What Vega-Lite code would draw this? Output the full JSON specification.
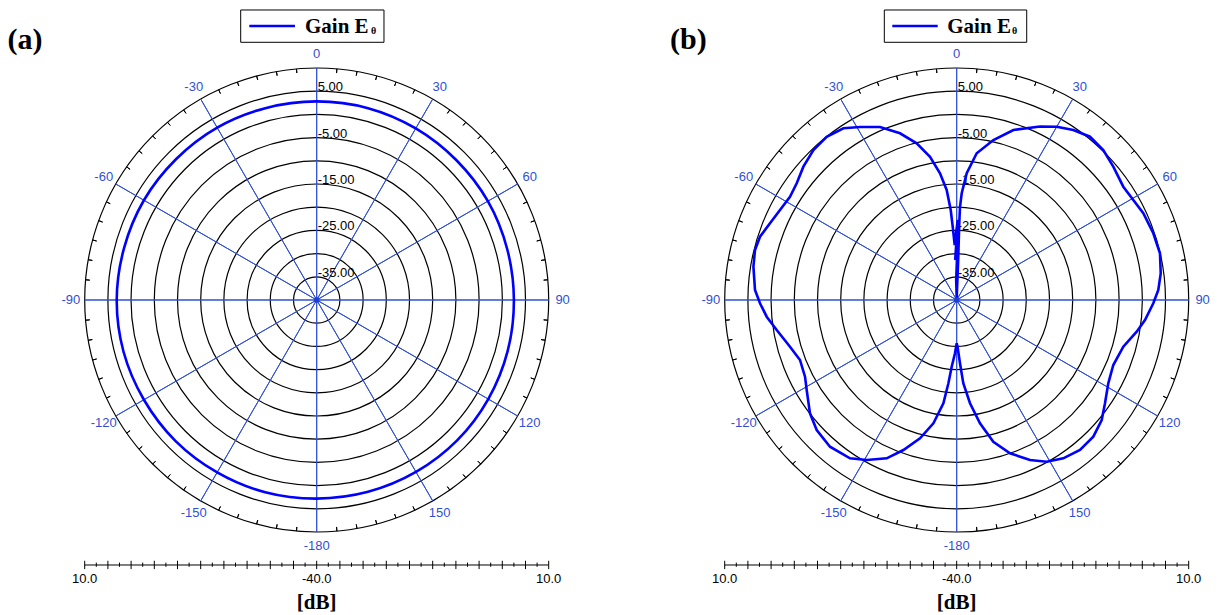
{
"$schema": "https://vega.github.io/schema/vega-lite/v6.json",
"padding": 0,
"background": "white",
"spacing": 60,
"config": {"view": {"stroke": null}, "axis": {"disable": true}, "legend": {"disable": true}},
"datasets": {
"circles": [{"g":-35},{"g":-30},{"g":-25},{"g":-20},{"g":-15},{"g":-10},{"g":-5},{"g":0},{"g":5},{"g":10}],
"spokes": [{"a":0},{"a":30},{"a":60},{"a":90},{"a":120},{"a":150},{"a":180},{"a":210},{"a":240},{"a":270},{"a":300},{"a":330}],
"ticks": [{"a":5},{"a":10},{"a":15},{"a":20},{"a":25},{"a":35},{"a":40},{"a":45},{"a":50},{"a":55},{"a":65},{"a":70},{"a":75},{"a":80},{"a":85},{"a":95},{"a":100},{"a":105},{"a":110},{"a":115},{"a":125},{"a":130},{"a":135},{"a":140},{"a":145},{"a":155},{"a":160},{"a":165},{"a":170},{"a":175},{"a":185},{"a":190},{"a":195},{"a":200},{"a":205},{"a":215},{"a":220},{"a":225},{"a":230},{"a":235},{"a":245},{"a":250},{"a":255},{"a":260},{"a":265},{"a":275},{"a":280},{"a":285},{"a":290},{"a":295},{"a":305},{"a":310},{"a":315},{"a":320},{"a":325},{"a":335},{"a":340},{"a":345},{"a":350},{"a":355}],
"alabels": [{"a":0,"t":"0"},{"a":30,"t":"30"},{"a":60,"t":"60"},{"a":90,"t":"90"},{"a":120,"t":"120"},{"a":150,"t":"150"},{"a":180,"t":"-180"},{"a":210,"t":"-150"},{"a":240,"t":"-120"},{"a":270,"t":"-90"},{"a":300,"t":"-60"},{"a":330,"t":"-30"}],
"rlabels": [{"g":5,"t":"5.00"},{"g":-5,"t":"-5.00"},{"g":-15,"t":"-15.00"},{"g":-25,"t":"-25.00"},{"g":-35,"t":"-35.00"}],
"axmaj": [{"v":-50},{"v":-45},{"v":-40},{"v":-35},{"v":-30},{"v":-25},{"v":-20},{"v":-15},{"v":-10},{"v":-5},{"v":0},{"v":5},{"v":10},{"v":15},{"v":20},{"v":25},{"v":30},{"v":35},{"v":40},{"v":45},{"v":50}],
"axmin": [{"v":-47.5},{"v":-42.5},{"v":-37.5},{"v":-32.5},{"v":-27.5},{"v":-22.5},{"v":-17.5},{"v":-12.5},{"v":-7.5},{"v":-2.5},{"v":2.5},{"v":7.5},{"v":12.5},{"v":17.5},{"v":22.5},{"v":27.5},{"v":32.5},{"v":37.5},{"v":42.5},{"v":47.5}],
"axlab": [{"v":-50,"t":"10.0"},{"v":0,"t":"-40.0"},{"v":50,"t":"10.0"}],
"curveA": [{"i":0,"x":0,"y":42.8},{"i":1,"x":11.078,"y":41.342},{"i":2,"x":21.35,"y":36.979},{"i":3,"x":30.123,"y":30.123},{"i":4,"x":36.893,"y":21.3},{"i":5,"x":41.052,"y":11.0},{"i":6,"x":42.5,"y":0},{"i":7,"x":41.149,"y":-11.026},{"i":8,"x":36.979,"y":-21.35},{"i":9,"x":30.264,"y":-30.264},{"i":10,"x":21.4,"y":-37.066},{"i":11,"x":11.077,"y":-41.342},{"i":12,"x":0,"y":-42.8},{"i":13,"x":-11.103,"y":-41.438},{"i":14,"x":-21.45,"y":-37.153},{"i":15,"x":-30.406,"y":-30.406},{"i":16,"x":-37.239,"y":-21.5},{"i":17,"x":-41.632,"y":-11.155},{"i":18,"x":-43.1,"y":0},{"i":19,"x":-41.535,"y":11.129},{"i":20,"x":-37.239,"y":21.5},{"i":21,"x":-30.335,"y":30.335},{"i":22,"x":-21.45,"y":37.153},{"i":23,"x":-11.078,"y":41.342}],
"curveB": [{"i":1,"x":0,"y":0.43},{"i":2,"x":0.32,"y":8.62},{"i":3,"x":0.54,"y":16.16},{"i":4,"x":0.71,"y":20.04},{"i":5,"x":1.08,"y":23.0},{"i":6,"x":2.16,"y":27.31},{"i":7,"x":4.31,"y":31.62},{"i":8,"x":7.91,"y":34.48},{"i":9,"x":12.22,"y":36.64},{"i":10,"x":17.95,"y":37.39},{"i":11,"x":21.55,"y":37.35},{"i":12,"x":25.13,"y":36.64},{"i":13,"x":28.73,"y":35.19},{"i":14,"x":31.59,"y":32.33},{"i":15,"x":33.75,"y":28.73},{"i":16,"x":35.91,"y":24.42},{"i":17,"x":38.06,"y":21.55},{"i":18,"x":40.22,"y":18.69},{"i":19,"x":42.37,"y":14.38},{"i":20,"x":43.81,"y":10.06},{"i":21,"x":43.97,"y":5.75},{"i":22,"x":43.45,"y":2.16},{"i":23,"x":42.37,"y":-0.71},{"i":24,"x":40.58,"y":-4.31},{"i":25,"x":38.79,"y":-6.83},{"i":26,"x":35.91,"y":-10.06},{"i":27,"x":33.75,"y":-14.01},{"i":28,"x":32.67,"y":-17.95},{"i":29,"x":31.96,"y":-22.26},{"i":30,"x":31.25,"y":-25.86},{"i":31,"x":29.44,"y":-29.46},{"i":32,"x":26.57,"y":-32.33},{"i":33,"x":22.97,"y":-34.12},{"i":34,"x":19.4,"y":-34.85},{"i":35,"x":15.8,"y":-34.48},{"i":36,"x":11.49,"y":-33.04},{"i":37,"x":7.89,"y":-30.54},{"i":38,"x":5.02,"y":-26.57},{"i":39,"x":2.87,"y":-22.26},{"i":40,"x":1.42,"y":-17.95},{"i":41,"x":0.71,"y":-13.64},{"i":42,"x":0.22,"y":-10.34},{"i":43,"x":0,"y":-9.33},{"i":44,"x":-0.37,"y":-11.49},{"i":45,"x":-1.08,"y":-14.38},{"i":46,"x":-1.79,"y":-17.95},{"i":47,"x":-2.87,"y":-22.26},{"i":48,"x":-5.02,"y":-26.57},{"i":49,"x":-7.91,"y":-29.81},{"i":50,"x":-11.49,"y":-32.33},{"i":51,"x":-15.09,"y":-34.12},{"i":52,"x":-19.4,"y":-34.48},{"i":53,"x":-23.0,"y":-34.12},{"i":54,"x":-27.31,"y":-31.62},{"i":55,"x":-30.17,"y":-28.02},{"i":56,"x":-31.62,"y":-24.42},{"i":57,"x":-32.33,"y":-19.4},{"i":58,"x":-32.69,"y":-16.53},{"i":59,"x":-33.77,"y":-12.93},{"i":60,"x":-35.93,"y":-10.06},{"i":61,"x":-38.79,"y":-6.47},{"i":62,"x":-40.95,"y":-3.6},{"i":63,"x":-42.39,"y":-0.71},{"i":64,"x":-43.47,"y":2.16},{"i":65,"x":-43.81,"y":7.18},{"i":66,"x":-43.47,"y":10.78},{"i":67,"x":-42.39,"y":13.64},{"i":68,"x":-40.24,"y":16.53},{"i":69,"x":-38.08,"y":19.4},{"i":70,"x":-35.93,"y":22.26},{"i":71,"x":-34.48,"y":25.15},{"i":72,"x":-33.04,"y":28.73},{"i":73,"x":-30.88,"y":32.33},{"i":74,"x":-28.02,"y":35.19},{"i":75,"x":-24.42,"y":37.0},{"i":76,"x":-20.84,"y":37.28},{"i":77,"x":-16.53,"y":37.28},{"i":78,"x":-12.22,"y":35.93},{"i":79,"x":-8.62,"y":33.77},{"i":80,"x":-5.75,"y":30.88},{"i":81,"x":-3.6,"y":27.31},{"i":82,"x":-2.16,"y":23.71},{"i":83,"x":-1.29,"y":19.4},{"i":84,"x":-0.86,"y":15.8},{"i":85,"x":-0.43,"y":11.85},{"i":86,"x":0.22,"y":17.24},{"i":87,"x":-0.32,"y":8.62},{"i":88,"x":0.22,"y":12.93},{"i":89,"x":-0.11,"y":4.31},{"i":90,"x":0,"y":0.43}]
},
"hconcat": [
{
"width": 580, "height": 615,
"layer": [
 {"data": {"name": "circles"}, "mark": {"type": "arc", "filled": false, "fillOpacity": 0, "stroke": "#000000", "strokeWidth": 1.2},
  "encoding": {
   "x": {"datum": 0, "type": "quantitative", "scale": {"domain": [-68.254, 56.746], "nice": false, "zero": false}},
   "y": {"datum": 0, "type": "quantitative", "scale": {"domain": [-67.888, 64.655], "nice": false, "zero": false}},
   "radius": {"field": "g", "type": "quantitative", "stack": null, "scale": {"type": "linear", "domain": [-40, 10], "range": [0, 232], "zero": false, "nice": false}},
   "radius2": {"datum": -40}}},
 {"data": {"name": "ticks"}, "mark": {"type": "arc", "filled": false, "fillOpacity": 0, "stroke": "#000000", "strokeWidth": 1},
  "encoding": {
   "x": {"datum": 0, "type": "quantitative", "scale": {"domain": [-68.254, 56.746], "nice": false, "zero": false}},
   "y": {"datum": 0, "type": "quantitative", "scale": {"domain": [-67.888, 64.655], "nice": false, "zero": false}},
   "theta": {"field": "a", "type": "quantitative", "stack": null, "scale": {"type": "linear", "domain": [0, 360], "range": [0, 6.283185307179586], "zero": false, "nice": false}}, "theta2": {"field": "a"},
   "radius": {"datum": 10, "type": "quantitative", "scale": {"type": "linear", "domain": [-40, 10], "range": [0, 232], "zero": false, "nice": false}}, "radius2": {"datum": 9.1}}},
 {"data": {"name": "spokes"}, "mark": {"type": "arc", "filled": false, "fillOpacity": 0, "stroke": "#2f4fd6", "strokeWidth": 1},
  "encoding": {
   "x": {"datum": 0, "type": "quantitative", "scale": {"domain": [-68.254, 56.746], "nice": false, "zero": false}},
   "y": {"datum": 0, "type": "quantitative", "scale": {"domain": [-67.888, 64.655], "nice": false, "zero": false}},
   "theta": {"field": "a", "type": "quantitative", "stack": null, "scale": {"type": "linear", "domain": [0, 360], "range": [0, 6.283185307179586], "zero": false, "nice": false}}, "theta2": {"field": "a"},
   "radius": {"datum": 10, "type": "quantitative", "scale": {"type": "linear", "domain": [-40, 10], "range": [0, 232], "zero": false, "nice": false}}, "radius2": {"datum": -40}}},
 {"data": {"name": "alabels"}, "mark": {"type": "text", "font": "Liberation Sans", "fontSize": 13, "color": "#2f4fd6", "align": "center", "baseline": "middle"},
  "encoding": {
   "x": {"datum": 0, "type": "quantitative", "scale": {"domain": [-68.254, 56.746], "nice": false, "zero": false}},
   "y": {"datum": 0, "type": "quantitative", "scale": {"domain": [-67.888, 64.655], "nice": false, "zero": false}},
   "theta": {"field": "a", "type": "quantitative", "stack": null, "scale": {"type": "linear", "domain": [0, 360], "range": [0, 6.283185307179586], "zero": false, "nice": false}},
   "radius": {"datum": 13, "type": "quantitative", "scale": {"type": "linear", "domain": [-40, 10], "range": [0, 232], "zero": false, "nice": false}}, "text": {"field": "t"}}},
 {"data": {"name": "rlabels"}, "mark": {"type": "text", "font": "Liberation Sans", "fontSize": 13, "color": "#000000", "align": "left", "baseline": "alphabetic", "dx": 1},
  "encoding": {
   "x": {"datum": 0, "type": "quantitative", "scale": {"domain": [-68.254, 56.746], "nice": false, "zero": false}},
   "y": {"datum": 0, "type": "quantitative", "scale": {"domain": [-67.888, 64.655], "nice": false, "zero": false}},
   "theta": {"datum": 0, "type": "quantitative", "scale": {"type": "linear", "domain": [0, 360], "range": [0, 6.283185307179586], "zero": false, "nice": false}},
   "radius": {"field": "g", "type": "quantitative", "stack": null, "scale": {"type": "linear", "domain": [-40, 10], "range": [0, 232], "zero": false, "nice": false}}, "text": {"field": "t"}}},
 {"data": {"name": "curveA"}, "mark": {"type": "line", "color": "#0000ff", "strokeWidth": 2.6, "interpolate": "cardinal-closed"},
  "encoding": {"x": {"field": "x", "type": "quantitative", "scale": {"domain": [-68.254, 56.746], "nice": false, "zero": false}},
   "y": {"field": "y", "type": "quantitative", "scale": {"domain": [-67.888, 64.655], "nice": false, "zero": false}},
   "order": {"field": "i", "type": "quantitative"}}},
 {"data": {"values": [{}]}, "mark": {"type": "point", "filled": true, "color": "#1f3fd0", "size": 30, "opacity": 1},
  "encoding": {
   "x": {"datum": 0, "type": "quantitative", "scale": {"domain": [-68.254, 56.746], "nice": false, "zero": false}},
   "y": {"datum": 0, "type": "quantitative", "scale": {"domain": [-67.888, 64.655], "nice": false, "zero": false}}}},
 {"data": {"values": [{}]}, "mark": {"type": "rule", "color": "#000000", "strokeWidth": 1},
  "encoding": {"x": {"datum": -50, "type": "quantitative", "scale": {"domain": [-68.254, 56.746], "nice": false, "zero": false}}, "x2": {"datum": 50},
   "y": {"datum": -57.11, "type": "quantitative", "scale": {"domain": [-67.888, 64.655], "nice": false, "zero": false}}}},
 {"data": {"name": "axmaj"}, "mark": {"type": "rule", "color": "#000000", "strokeWidth": 1},
  "encoding": {"x": {"field": "v", "type": "quantitative", "scale": {"domain": [-68.254, 56.746], "nice": false, "zero": false}},
   "y": {"datum": -58.0, "type": "quantitative", "scale": {"domain": [-67.888, 64.655], "nice": false, "zero": false}}, "y2": {"datum": -56.2}}},
 {"data": {"name": "axmin"}, "mark": {"type": "rule", "color": "#000000", "strokeWidth": 1},
  "encoding": {"x": {"field": "v", "type": "quantitative", "scale": {"domain": [-68.254, 56.746], "nice": false, "zero": false}},
   "y": {"datum": -57.5, "type": "quantitative", "scale": {"domain": [-67.888, 64.655], "nice": false, "zero": false}}, "y2": {"datum": -56.6}}},
 {"data": {"name": "axlab"}, "mark": {"type": "text", "font": "Liberation Sans", "fontSize": 13, "color": "#000000", "align": "center", "baseline": "middle"},
  "encoding": {"x": {"field": "v", "type": "quantitative", "scale": {"domain": [-68.254, 56.746], "nice": false, "zero": false}},
   "y": {"datum": -60.1, "type": "quantitative", "scale": {"domain": [-67.888, 64.655], "nice": false, "zero": false}}, "text": {"field": "t"}}},
 {"data": {"values": [{}]}, "mark": {"type": "text", "text": "[dB]", "font": "Liberation Serif", "fontWeight": "bold", "fontSize": 21, "color": "#000000", "align": "center", "baseline": "alphabetic"},
  "encoding": {"x": {"datum": 0, "type": "quantitative", "scale": {"domain": [-68.254, 56.746], "nice": false, "zero": false}},
   "y": {"datum": -66.6, "type": "quantitative", "scale": {"domain": [-67.888, 64.655], "nice": false, "zero": false}}}},
 {"data": {"values": [{}]}, "mark": {"type": "text", "text": "(a)", "font": "Liberation Serif", "fontWeight": "bold", "fontSize": 30, "color": "#000000", "align": "center", "baseline": "alphabetic"},
  "encoding": {"x": {"datum": -62.87, "type": "quantitative", "scale": {"domain": [-68.254, 56.746], "nice": false, "zero": false}},
   "y": {"datum": 54.09, "type": "quantitative", "scale": {"domain": [-67.888, 64.655], "nice": false, "zero": false}}}},
 {"data": {"values": [{}]}, "mark": {"type": "rect", "fill": "#ffffff", "stroke": "#000000", "strokeWidth": 1},
  "encoding": {"x": {"datum": -16.38, "type": "quantitative", "scale": {"domain": [-68.254, 56.746], "nice": false, "zero": false}}, "x2": {"datum": 14.5},
   "y": {"datum": 62.5, "type": "quantitative", "scale": {"domain": [-67.888, 64.655], "nice": false, "zero": false}}, "y2": {"datum": 55.54}}},
 {"data": {"values": [{}]}, "mark": {"type": "rule", "color": "#0000ff", "strokeWidth": 2.5},
  "encoding": {"x": {"datum": -14.53, "type": "quantitative", "scale": {"domain": [-68.254, 56.746], "nice": false, "zero": false}}, "x2": {"datum": -4.68},
   "y": {"datum": 59.05, "type": "quantitative", "scale": {"domain": [-67.888, 64.655], "nice": false, "zero": false}}}},
 {"data": {"values": [{}]}, "mark": {"type": "text", "text": "Gain E", "font": "Liberation Serif", "fontWeight": "bold", "fontSize": 21, "color": "#000000", "align": "left", "baseline": "alphabetic"},
  "encoding": {"x": {"datum": -2.52, "type": "quantitative", "scale": {"domain": [-68.254, 56.746], "nice": false, "zero": false}},
   "y": {"datum": 57.48, "type": "quantitative", "scale": {"domain": [-67.888, 64.655], "nice": false, "zero": false}}}},
 {"data": {"values": [{}]}, "mark": {"type": "text", "text": "θ", "font": "Liberation Serif", "fontWeight": "bold", "fontSize": 10, "color": "#000000", "align": "left", "baseline": "alphabetic"},
  "encoding": {"x": {"datum": 11.7, "type": "quantitative", "scale": {"domain": [-68.254, 56.746], "nice": false, "zero": false}},
   "y": {"datum": 57.26, "type": "quantitative", "scale": {"domain": [-67.888, 64.655], "nice": false, "zero": false}}}}
]
},
{
"width": 580, "height": 615,
"layer": [
 {"data": {"name": "circles"}, "mark": {"type": "arc", "filled": false, "fillOpacity": 0, "stroke": "#000000", "strokeWidth": 1.2},
  "encoding": {
   "x": {"datum": 0, "type": "quantitative", "scale": {"domain": [-68.254, 56.746], "nice": false, "zero": false}},
   "y": {"datum": 0, "type": "quantitative", "scale": {"domain": [-67.888, 64.655], "nice": false, "zero": false}},
   "radius": {"field": "g", "type": "quantitative", "stack": null, "scale": {"type": "linear", "domain": [-40, 10], "range": [0, 232], "zero": false, "nice": false}},
   "radius2": {"datum": -40}}},
 {"data": {"name": "ticks"}, "mark": {"type": "arc", "filled": false, "fillOpacity": 0, "stroke": "#000000", "strokeWidth": 1},
  "encoding": {
   "x": {"datum": 0, "type": "quantitative", "scale": {"domain": [-68.254, 56.746], "nice": false, "zero": false}},
   "y": {"datum": 0, "type": "quantitative", "scale": {"domain": [-67.888, 64.655], "nice": false, "zero": false}},
   "theta": {"field": "a", "type": "quantitative", "stack": null, "scale": {"type": "linear", "domain": [0, 360], "range": [0, 6.283185307179586], "zero": false, "nice": false}}, "theta2": {"field": "a"},
   "radius": {"datum": 10, "type": "quantitative", "scale": {"type": "linear", "domain": [-40, 10], "range": [0, 232], "zero": false, "nice": false}}, "radius2": {"datum": 9.1}}},
 {"data": {"name": "spokes"}, "mark": {"type": "arc", "filled": false, "fillOpacity": 0, "stroke": "#2f4fd6", "strokeWidth": 1},
  "encoding": {
   "x": {"datum": 0, "type": "quantitative", "scale": {"domain": [-68.254, 56.746], "nice": false, "zero": false}},
   "y": {"datum": 0, "type": "quantitative", "scale": {"domain": [-67.888, 64.655], "nice": false, "zero": false}},
   "theta": {"field": "a", "type": "quantitative", "stack": null, "scale": {"type": "linear", "domain": [0, 360], "range": [0, 6.283185307179586], "zero": false, "nice": false}}, "theta2": {"field": "a"},
   "radius": {"datum": 10, "type": "quantitative", "scale": {"type": "linear", "domain": [-40, 10], "range": [0, 232], "zero": false, "nice": false}}, "radius2": {"datum": -40}}},
 {"data": {"name": "alabels"}, "mark": {"type": "text", "font": "Liberation Sans", "fontSize": 13, "color": "#2f4fd6", "align": "center", "baseline": "middle"},
  "encoding": {
   "x": {"datum": 0, "type": "quantitative", "scale": {"domain": [-68.254, 56.746], "nice": false, "zero": false}},
   "y": {"datum": 0, "type": "quantitative", "scale": {"domain": [-67.888, 64.655], "nice": false, "zero": false}},
   "theta": {"field": "a", "type": "quantitative", "stack": null, "scale": {"type": "linear", "domain": [0, 360], "range": [0, 6.283185307179586], "zero": false, "nice": false}},
   "radius": {"datum": 13, "type": "quantitative", "scale": {"type": "linear", "domain": [-40, 10], "range": [0, 232], "zero": false, "nice": false}}, "text": {"field": "t"}}},
 {"data": {"name": "rlabels"}, "mark": {"type": "text", "font": "Liberation Sans", "fontSize": 13, "color": "#000000", "align": "left", "baseline": "alphabetic", "dx": 1},
  "encoding": {
   "x": {"datum": 0, "type": "quantitative", "scale": {"domain": [-68.254, 56.746], "nice": false, "zero": false}},
   "y": {"datum": 0, "type": "quantitative", "scale": {"domain": [-67.888, 64.655], "nice": false, "zero": false}},
   "theta": {"datum": 0, "type": "quantitative", "scale": {"type": "linear", "domain": [0, 360], "range": [0, 6.283185307179586], "zero": false, "nice": false}},
   "radius": {"field": "g", "type": "quantitative", "stack": null, "scale": {"type": "linear", "domain": [-40, 10], "range": [0, 232], "zero": false, "nice": false}}, "text": {"field": "t"}}},
 {"data": {"name": "curveB"}, "mark": {"type": "line", "color": "#0000ff", "strokeWidth": 2.6, "interpolate": "linear"},
  "encoding": {"x": {"field": "x", "type": "quantitative", "scale": {"domain": [-68.254, 56.746], "nice": false, "zero": false}},
   "y": {"field": "y", "type": "quantitative", "scale": {"domain": [-67.888, 64.655], "nice": false, "zero": false}},
   "order": {"field": "i", "type": "quantitative"}}},
 {"data": {"values": [{}]}, "mark": {"type": "point", "filled": true, "color": "#1f3fd0", "size": 30, "opacity": 1},
  "encoding": {
   "x": {"datum": 0, "type": "quantitative", "scale": {"domain": [-68.254, 56.746], "nice": false, "zero": false}},
   "y": {"datum": 0, "type": "quantitative", "scale": {"domain": [-67.888, 64.655], "nice": false, "zero": false}}}},
 {"data": {"values": [{}]}, "mark": {"type": "rule", "color": "#000000", "strokeWidth": 1},
  "encoding": {"x": {"datum": -50, "type": "quantitative", "scale": {"domain": [-68.254, 56.746], "nice": false, "zero": false}}, "x2": {"datum": 50},
   "y": {"datum": -57.11, "type": "quantitative", "scale": {"domain": [-67.888, 64.655], "nice": false, "zero": false}}}},
 {"data": {"name": "axmaj"}, "mark": {"type": "rule", "color": "#000000", "strokeWidth": 1},
  "encoding": {"x": {"field": "v", "type": "quantitative", "scale": {"domain": [-68.254, 56.746], "nice": false, "zero": false}},
   "y": {"datum": -58.0, "type": "quantitative", "scale": {"domain": [-67.888, 64.655], "nice": false, "zero": false}}, "y2": {"datum": -56.2}}},
 {"data": {"name": "axmin"}, "mark": {"type": "rule", "color": "#000000", "strokeWidth": 1},
  "encoding": {"x": {"field": "v", "type": "quantitative", "scale": {"domain": [-68.254, 56.746], "nice": false, "zero": false}},
   "y": {"datum": -57.5, "type": "quantitative", "scale": {"domain": [-67.888, 64.655], "nice": false, "zero": false}}, "y2": {"datum": -56.6}}},
 {"data": {"name": "axlab"}, "mark": {"type": "text", "font": "Liberation Sans", "fontSize": 13, "color": "#000000", "align": "center", "baseline": "middle"},
  "encoding": {"x": {"field": "v", "type": "quantitative", "scale": {"domain": [-68.254, 56.746], "nice": false, "zero": false}},
   "y": {"datum": -60.1, "type": "quantitative", "scale": {"domain": [-67.888, 64.655], "nice": false, "zero": false}}, "text": {"field": "t"}}},
 {"data": {"values": [{}]}, "mark": {"type": "text", "text": "[dB]", "font": "Liberation Serif", "fontWeight": "bold", "fontSize": 21, "color": "#000000", "align": "center", "baseline": "alphabetic"},
  "encoding": {"x": {"datum": 0, "type": "quantitative", "scale": {"domain": [-68.254, 56.746], "nice": false, "zero": false}},
   "y": {"datum": -66.6, "type": "quantitative", "scale": {"domain": [-67.888, 64.655], "nice": false, "zero": false}}}},
 {"data": {"values": [{}]}, "mark": {"type": "text", "text": "(b)", "font": "Liberation Serif", "fontWeight": "bold", "fontSize": 30, "color": "#000000", "align": "center", "baseline": "alphabetic"},
  "encoding": {"x": {"datum": -57.84, "type": "quantitative", "scale": {"domain": [-68.254, 56.746], "nice": false, "zero": false}},
   "y": {"datum": 54.09, "type": "quantitative", "scale": {"domain": [-67.888, 64.655], "nice": false, "zero": false}}}},
 {"data": {"values": [{}]}, "mark": {"type": "rect", "fill": "#ffffff", "stroke": "#000000", "strokeWidth": 1},
  "encoding": {"x": {"datum": -15.6, "type": "quantitative", "scale": {"domain": [-68.254, 56.746], "nice": false, "zero": false}}, "x2": {"datum": 15.09},
   "y": {"datum": 62.5, "type": "quantitative", "scale": {"domain": [-67.888, 64.655], "nice": false, "zero": false}}, "y2": {"datum": 55.54}}},
 {"data": {"values": [{}]}, "mark": {"type": "rule", "color": "#0000ff", "strokeWidth": 2.5},
  "encoding": {"x": {"datum": -13.88, "type": "quantitative", "scale": {"domain": [-68.254, 56.746], "nice": false, "zero": false}}, "x2": {"datum": -4.09},
   "y": {"datum": 59.05, "type": "quantitative", "scale": {"domain": [-67.888, 64.655], "nice": false, "zero": false}}}},
 {"data": {"values": [{}]}, "mark": {"type": "text", "text": "Gain E", "font": "Liberation Serif", "fontWeight": "bold", "fontSize": 21, "color": "#000000", "align": "left", "baseline": "alphabetic"},
  "encoding": {"x": {"datum": -2.03, "type": "quantitative", "scale": {"domain": [-68.254, 56.746], "nice": false, "zero": false}},
   "y": {"datum": 57.48, "type": "quantitative", "scale": {"domain": [-67.888, 64.655], "nice": false, "zero": false}}}},
 {"data": {"values": [{}]}, "mark": {"type": "text", "text": "θ", "font": "Liberation Serif", "fontWeight": "bold", "fontSize": 10, "color": "#000000", "align": "left", "baseline": "alphabetic"},
  "encoding": {"x": {"datum": 11.9, "type": "quantitative", "scale": {"domain": [-68.254, 56.746], "nice": false, "zero": false}},
   "y": {"datum": 57.26, "type": "quantitative", "scale": {"domain": [-67.888, 64.655], "nice": false, "zero": false}}}}
]
}
]
}
